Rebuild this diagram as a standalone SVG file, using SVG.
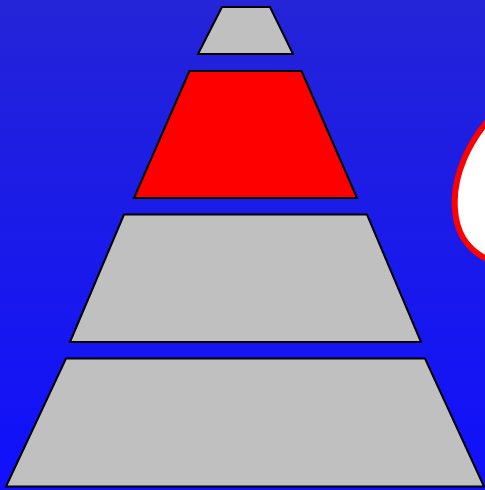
<svg xmlns="http://www.w3.org/2000/svg" width="485" height="490" viewBox="0 0 485 490">
<defs>
<linearGradient id="bg" x1="0" y1="0" x2="0" y2="1">
<stop offset="0" stop-color="#2424d8"/>
<stop offset="1" stop-color="#1010fc"/>
</linearGradient>
<style>
.t{stroke:#000;stroke-width:2;stroke-linejoin:miter}
.g{fill:#c0c0c0}
.r{fill:#ff0000}
</style>
</defs>
<rect width="485" height="490" fill="url(#bg)"/>
<g id="blob"><path d="M 492 116 C 470 140 452 175 455 210 C 457 240 475 256 497 263" fill="#fff" stroke="#ff0000" stroke-width="6"/></g>
<g id="level1"><polygon class="t g" points="222,7 270,7 293,54 198,54"/></g>
<g id="level2"><polygon class="t r" points="189.5,71 301.5,71 357,198 134,198"/></g>
<g id="level3"><polygon class="t g" points="124,214.5 367,214.5 421,342 70,342"/></g>
<g id="level4"><polygon class="t g" points="66,358.5 425,358.5 484,486.5 6,486.5"/></g>
<g id="connectors"/>
</svg>
